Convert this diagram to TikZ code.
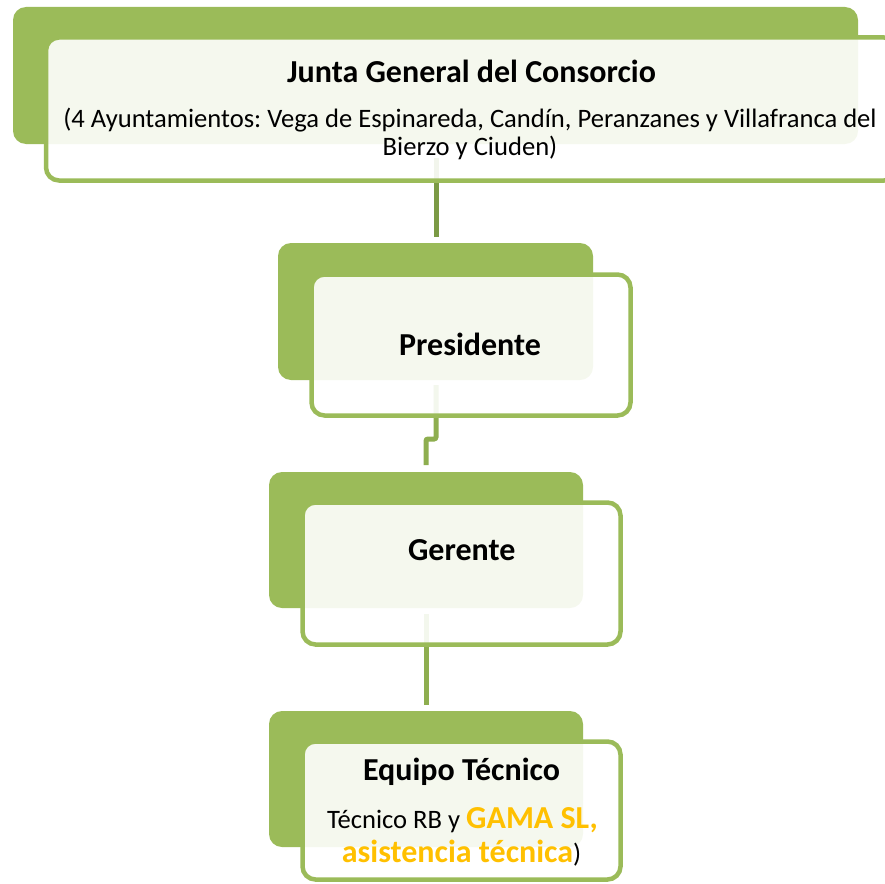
\documentclass[tikz,border=0pt]{standalone}
\usepackage{fontspec}
\setmainfont{Carlito}
\frenchspacing
\definecolor{grn}{HTML}{9BBB59}
\definecolor{conA}{HTML}{7B9A45}
\definecolor{conB}{HTML}{8EAE4F}
\definecolor{orng}{HTML}{FFC000}
\tikzset{
  backbox/.style={rounded corners=13pt, fill=grn, draw=none, inner sep=0pt, outer sep=0pt},
  frontbox/.style={rounded corners=13pt, draw=grn, line width=4.5pt, fill=white, fill opacity=0.9, inner sep=0pt, outer sep=0pt},
  conn/.style={line width=5pt},
  ttl/.style={anchor=base, inner sep=0pt, font=\fontsize{32}{36}\selectfont\bfseries},
  sub/.style={anchor=base, inner sep=0pt, font=\fontsize{26.6}{30}\selectfont},
}
\begin{document}
\begin{tikzpicture}[x=1pt,y=-1pt]
\useasboundingbox (0,0) rectangle (885,883);
\clip (0,0) rectangle (885,883);
% back boxes
\node[backbox, minimum width=845pt, minimum height=137pt] (b1) at (435.5,75.5) {};
\node[backbox, minimum width=315pt, minimum height=137pt] (b2) at (435.5,311.5) {};
\node[backbox, minimum width=314pt, minimum height=136pt] (b3) at (426,540) {};
\node[backbox, minimum width=314pt, minimum height=136pt] (b4) at (426,779) {};
% connector end points
\coordinate (c1a) at (436,158);
\coordinate (c1b) at (436,237);
\coordinate (c2a) at (436,385);
\coordinate (c2b) at (426,465);
\coordinate (c3a) at (426,614);
\coordinate (c3b) at (426,705);
\draw[conn, draw=conA] (c1a) -- (c1b);
\draw[conn, draw=conB, rounded corners=2pt] (c2a) -- (436,439) -- (426,439) -- (c2b);
\draw[conn, draw=conB] (c3a) -- (c3b);
% front boxes
\node[frontbox, minimum width=851pt, minimum height=143pt] (f1) at (471.5,109) {};
\node[frontbox, minimum width=319pt, minimum height=141pt] (f2) at (471,345) {};
\node[frontbox, minimum width=318pt, minimum height=142pt] (f3) at (461.5,573.5) {};
\node[frontbox, minimum width=318pt, minimum height=138pt] (f4) at (461.5,810.5) {};
% texts
\node[ttl] (t1) at (471.5,82.7) {Junta General del Consorcio};
\node[sub] (t1b) at (470,127.3) {(4 Ayuntamientos: Vega de Espinareda, Candín, Peranzanes y Villafranca del};
\node[sub] (t1c) at (470,155) {Bierzo y Ciuden)};
\node[ttl] (t2) at (470,355) {Presidente};
\node[ttl] (t3) at (461.7,560) {Gerente};
\node[ttl] (t4) at (461.5,780) {Equipo Técnico};
\node[sub] (t4b) at (462.5,828) {Técnico RB y {\fontsize{32}{36}\selectfont\bfseries\color{orng}GAMA SL,}};
\node[sub] (t4c) at (461.5,862) {{\fontsize{32}{36}\selectfont\bfseries\color{orng}asistencia técnica})};
\end{tikzpicture}
\end{document}
